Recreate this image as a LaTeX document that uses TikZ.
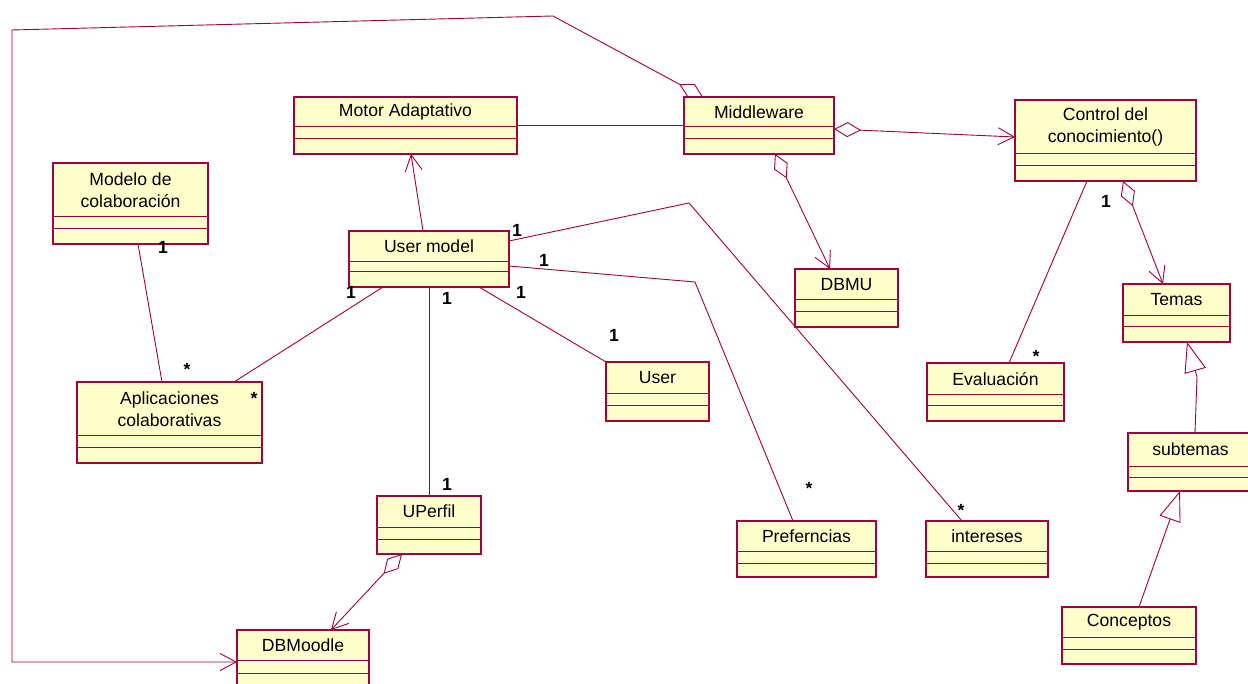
\documentclass[tikz,border=0pt]{standalone}
\usepackage{fontspec}
\setmainfont{Liberation Sans}
\usetikzlibrary{arrows.meta}

\definecolor{umlred}{RGB}{160,0,60}
\definecolor{umlfill}{RGB}{255,255,204}

\tikzset{
  classbox/.style={draw=umlred, fill=umlfill, line width=1.2pt, inner sep=0pt, outer sep=0pt},
  classtitle/.style={font=\fontsize{17.6}{22}\selectfont, align=center, inner sep=0pt},
  classline/.style={draw=umlred, line width=1pt},
  conn/.style={draw=umlred, line width=0.9pt, line join=miter},
  nav/.style={conn, -{Straight Barb[length=16pt,width=17pt]}},
  aggnav/.style={conn, {Diamond[open,length=27pt,width=15pt]}-{Straight Barb[length=16pt,width=17pt]}},
  gen/.style={conn, -{Triangle[open,length=30pt,width=22pt,fill=white]}},
  mult/.style={font=\bfseries\fontsize{17.6}{17.6}\selectfont, inner sep=0pt},
}

% class box: name, left, top, right, bottom, first divider, second divider, title
\newcommand{\umlclass}[8]{%
  \node[classbox, minimum width={#4-#2}, minimum height={#5-#3}, anchor=north west] (#1) at (#2,#3) {};
  \node[classtitle] (#1-title) at ({(#2+#4)/2},{(#3+#6)/2}) {#8};
  \draw[classline] (#2,#6) -- (#4,#6);
  \draw[classline] (#2,#7) -- (#4,#7);
}

\begin{document}
\begin{tikzpicture}[x=1pt,y=-1pt]
\useasboundingbox (0,0) rectangle (1248,684);

% classes
\umlclass{ma}{294}{97}{517}{154}{127}{139}{Motor Adaptativo}
\umlclass{mw}{684}{97}{834}{154}{127}{139}{Middleware}
\umlclass{ctl}{1015}{100}{1196}{181}{154}{166}{Control del\\conocimiento()}
\umlclass{mc}{53}{163}{208}{244}{217}{229}{Modelo de\\colaboración}
\umlclass{um}{349}{231}{509}{287}{262}{272}{User model}
\umlclass{dbmu}{795}{269}{898}{327}{300}{312}{DBMU}
\umlclass{tem}{1123}{284}{1230}{342}{316}{327}{Temas}
\umlclass{ap}{77}{382}{262}{463}{436}{448}{Aplicaciones\\colaborativas}
\umlclass{usr}{606}{362}{709}{421}{394}{406}{User}
\umlclass{eval}{927}{363}{1064}{421}{395}{406}{Evaluación}
\umlclass{sub}{1128}{433}{1253}{491}{466}{477}{subtemas}
\umlclass{up}{377}{496}{481}{554}{527}{539}{UPerfil}
\umlclass{pref}{737}{521}{876}{577}{551}{563}{Preferncias}
\umlclass{int}{926}{521}{1048}{577}{551}{563}{intereses}
\umlclass{con}{1062}{607}{1196}{664}{637}{649}{Conceptos}
\umlclass{dbm}{237}{630}{369}{690}{660}{673}{DBMoodle}

% bend points of routed connectors
\coordinate (c1) at (553,16);
\coordinate (c2) at (12,30);
\coordinate (c3) at (12,662);
\coordinate (cj) at (689,203);
\coordinate (ck) at (695,282);
\coordinate (nb) at (1197,377);

% connectors
\draw[aggnav] ([xshift=19]mw.north west) -- (c1) -- (c2) -- (c3) -- ([yshift=-32]dbm.north west);
\draw[conn] (ma.east) -- (mw.west);
\draw[aggnav] ([yshift=-32]mw.north east) -- ([yshift=-37]ctl.north west);
\draw[aggnav] ([xshift=91]mw.south west) -- ([xshift=35]dbmu.north west);
\draw[nav] ([xshift=74]um.north west) -- ([xshift=117]ma.south west);
\draw[conn] ([xshift=85]mc.south west) -- ([xshift=85]ap.north west);
\draw[conn] ([xshift=34]um.south west) -- ([xshift=157]ap.north west);
\draw[conn] ([xshift=80]um.south west) -- ([xshift=52]up.north west);
\draw[conn] ([xshift=130]um.south west) -- (usr.north west);
\draw[conn] ([yshift=-10]um.north east) -- (cj) -- ([xshift=36]int.north west);
\draw[conn] ([yshift=-35]um.north east) -- (ck) -- ([xshift=56]pref.north west);
\draw[conn] ([xshift=72]ctl.south west) -- ([xshift=82]eval.north west);
\draw[aggnav] ([xshift=108]ctl.south west) -- ([xshift=40]tem.north west);
\draw[gen] ([xshift=67]sub.north west) -- (nb) -- ([xshift=64]tem.south west);
\draw[gen] ([xshift=77]con.north west) -- ([xshift=52]sub.south west);
\draw[aggnav] ([xshift=25]up.south west) -- ([xshift=94]dbm.north west);

% multiplicities
\node[mult] (m1) at (163,247) {1};
\node[mult] (m2) at (187,369) {*};
\node[mult] (m3) at (351,292) {1};
\node[mult] (m4) at (254,398) {*};
\node[mult] (m5) at (447,298) {1};
\node[mult] (m6) at (447,484) {1};
\node[mult] (m7) at (521,292) {1};
\node[mult] (m8) at (614,335) {1};
\node[mult] (m9) at (517,230) {1};
\node[mult] (m10) at (544,260) {1};
\node[mult] (m11) at (809,488) {*};
\node[mult] (m12) at (961,510) {*};
\node[mult] (m13) at (1036,356) {*};
\node[mult] (m14) at (1106,201) {1};
\end{tikzpicture}
\end{document}
